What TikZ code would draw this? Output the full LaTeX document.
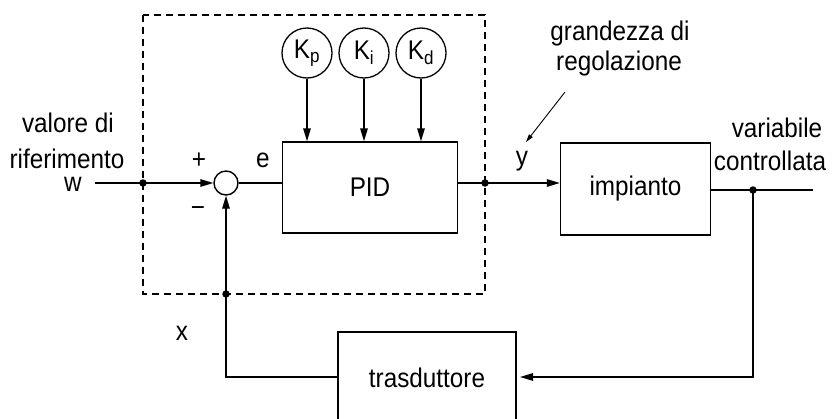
\documentclass[tikz,border=0pt]{standalone}
\usepackage{fontspec}
\setmainfont{Liberation Sans}[FakeStretch=0.9]
\usetikzlibrary{arrows.meta}
\begin{document}
\begin{tikzpicture}[x=1pt,y=-1pt,
  ln/.style={line width=1.4pt},
  arr/.style={line width=1.4pt,-{Triangle[length=13pt,width=7.5pt]}},
  thinarr/.style={line width=0.9pt,-{Triangle[length=8pt,width=4.5pt]}},
  dsh/.style={line width=1.2pt,dash pattern=on 7pt off 5pt},
  blk/.style={draw,line width=1.4pt,inner sep=0pt,font=\fontsize{27}{32}\selectfont},
  kc/.style={circle,draw,line width=1.3pt,minimum size=50pt,inner sep=0pt,font=\fontsize{27}{32}\selectfont},
  sumc/.style={circle,draw,line width=1.4pt,minimum size=24pt,inner sep=0pt},
  dotn/.style={circle,fill,inner sep=0pt,minimum size=7.5pt},
  lbl/.style={inner sep=0pt,anchor=base,font=\fontsize{27}{32}\selectfont}]
\useasboundingbox (0,0) rectangle (835,418);

% dashed controller frame
\draw[dsh] (143,15) rectangle (485,294);

% blocks
\node[blk,minimum width=175pt,minimum height=91pt] (pid) at (370,187.5) {PID};
\node[blk,minimum width=150pt,minimum height=92pt] (imp) at (635.5,189) {impianto};
\node[blk,minimum width=178pt,minimum height=92pt] (tra) at (427,378) {trasduttore};
\node[sumc] (sum) at (226,183) {};
\node[kc] (kp) at (307,53) {K\textsubscript{p}};
\node[kc] (ki) at (364,53) {K\textsubscript{i}};
\node[kc] (kd) at (421,53) {K\textsubscript{d}};

% connection points
\coordinate (win) at (95,183);
\coordinate (d1) at (143,183);
\coordinate (d2) at (485,183);
\coordinate (d3) at (753,190);
\coordinate (wend) at (813,190);
\coordinate (d4) at (226,294);
\coordinate (tin) at (520,377);
\coordinate (pa) at (565,92);
\coordinate (pb) at (526,142);

% connectors
\draw[ln] (win) -- (d1);
\draw[arr] (d1) -- (sum.west);
\draw[ln] (sum.east) -- (sum.east -| pid.west);
\draw[ln] (d2 -| pid.east) -- (d2);
\draw[arr] (d2) -- (d2 -| imp.west);
\draw[arr] (kp.south) -- (kp.south |- pid.north);
\draw[arr] (ki.south) -- (ki.south |- pid.north);
\draw[arr] (kd.south) -- (kd.south |- pid.north);
\draw[ln] (d3 -| imp.east) -- (d3) -- (wend);
\draw[arr] (d3) |- (tin);
\draw[arr] (tin -| tra.west) -| (sum.south);
\draw[thinarr] (pa) -- (pb);

% junction dots
\node[dotn] (j1) at (d1) {};
\node[dotn] (j2) at (d2) {};
\node[dotn] (j3) at (d3) {};
\node[dotn] (j4) at (d4) {};

% labels
\node[lbl] (t1) at (68,132) {valore di};
\node[lbl] (t2) at (67,168) {riferimento};
\node[lbl] (tw) at (73,191) {w};
\node[lbl] (tplus) at (199,168) {+};
\node[lbl] (tminus) at (198,216) {−};
\node[lbl] (te) at (263,167) {e};
\node[lbl] (ty) at (522,165) {y};
\node[lbl] (tg1) at (620,40) {grandezza di};
\node[lbl] (tg2) at (619,70) {regolazione};
\node[lbl] (tv1) at (777,137) {variabile};
\node[lbl] (tv2) at (770,170) {controllata};
\node[lbl] (tx) at (182,340) {x};
\end{tikzpicture}
\end{document}
